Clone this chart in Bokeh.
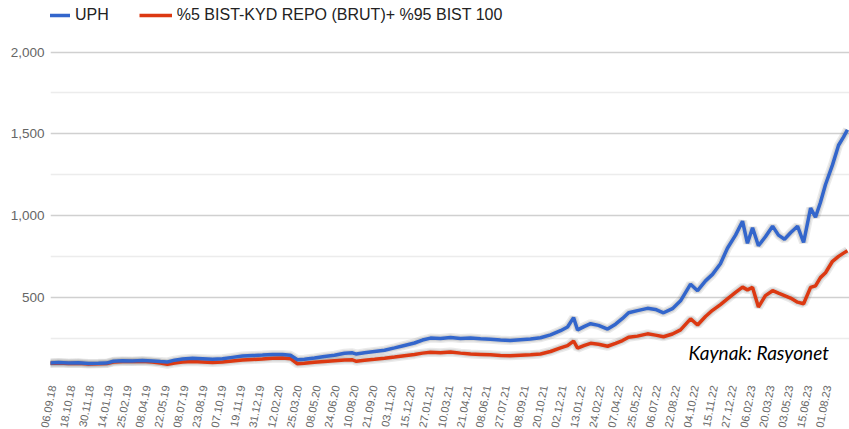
from bokeh.plotting import figure
from bokeh.models import (ColumnDataSource, Range1d, FixedTicker, NumeralTickFormatter,
                          Legend, LegendItem, Label)
from bokeh.embed import file_html
from bokeh.resources import INLINE

# ---- data ----
tick_labels = ["06.09.18", "18.10.18", "30.11.18", "14.01.19", "25.02.19", "08.04.19",
               "22.05.19", "08.07.19", "23.08.19", "07.10.19", "19.11.19", "31.12.19",
               "12.02.20", "25.03.20", "08.05.20", "24.06.20", "10.08.20", "21.09.20",
               "03.11.20", "15.12.20", "27.01.21", "10.03.21", "21.04.21", "08.06.21",
               "27.07.21", "08.09.21", "20.10.21", "02.12.21", "13.01.22", "24.02.22",
               "07.04.22", "25.05.22", "06.07.22", "22.08.22", "04.10.22", "15.11.22",
               "27.12.22", "06.02.23", "20.03.23", "03.05.23", "15.06.23", "01.08.23"]

# position along the date axis, in units of tick intervals (0 = 06.09.18)
period = [-0.21, 0.32, 0.85, 1.38, 1.90, 2.43, 2.86, 3.23, 3.70, 4.23, 4.76, 5.29, 5.71,
          6.08, 6.46, 6.88, 7.41, 7.94, 8.47, 8.99, 9.52, 10.05, 10.58, 11.11, 11.64,
          12.17, 12.59, 12.96, 13.33, 13.86, 14.39, 14.92, 15.45, 15.87, 16.08, 16.51,
          17.04, 17.57, 18.10, 18.62, 19.15, 19.58, 20.00, 20.53, 21.06, 21.59, 22.12,
          22.65, 23.17, 23.70, 24.23, 24.76, 25.29, 25.82, 26.35, 26.88, 27.25, 27.57,
          27.78, 28.15, 28.47, 28.89, 29.37, 29.79, 30.16, 30.48, 30.95, 31.48, 31.90,
          32.33, 32.80, 33.23, 33.76, 34.13, 34.55, 34.92, 35.34, 35.71, 36.14, 36.51,
          36.77, 37.04, 37.35, 37.72, 38.10, 38.41, 38.73, 39.05, 39.42, 39.74, 40.11,
          40.37, 40.63, 40.90, 41.27, 41.59, 41.85, 42.06]

uph = [97, 100, 98, 99, 95, 96, 97, 108, 112, 110, 113, 110, 106,
       104, 115, 122, 126, 124, 120, 124, 132, 140, 143, 146, 150,
       150, 145, 118, 120, 128, 137, 145, 157, 160, 152, 160,
       168, 176, 190, 205, 220, 238, 250, 248, 253, 247, 250,
       246, 243, 238, 235, 240, 245, 252, 270, 295, 318, 375,
       300, 322, 338, 328, 305, 335, 370, 405, 418, 432, 425,
       405, 430, 478, 580, 540, 600, 640, 705, 800, 880, 965,
       830, 925, 815, 870, 935, 880, 855, 895, 935, 835, 1045,
       990, 1080, 1190, 1310, 1430, 1480, 1525]

bench = [95, 97, 95, 96, 92, 93, 94, 104, 107, 106, 108, 103, 97,
         89, 98, 103, 106, 104, 100, 104, 110, 116, 119, 122, 127,
         128, 124, 93, 96, 102, 107, 112, 116, 117, 108, 115,
         120, 126, 134, 142, 150, 158, 163, 160, 165, 158, 152,
         150, 148, 144, 142, 145, 148, 153, 168, 190, 204, 232,
         188, 205, 218, 212, 200, 218, 235, 255, 262, 276, 268,
         258, 275, 300, 368, 330, 382, 420, 455, 490, 530, 562,
         545, 560, 440, 510, 540, 525, 510, 495, 470, 460, 560,
         570, 620, 650, 720, 750, 770, 785]

y_major = [500, 1000, 1500, 2000]
y_minor = [250, 750, 1250, 1750]

series_names = ["UPH", "%5 BIST-KYD REPO (BRUT)+ %95 BIST 100"]
colors = ["#3366cc", "#dc3912"]

src = ColumnDataSource(dict(period=period, uph=uph, bench=bench))

FONT = "Liberation Sans"
UNITS_PER_PX = 500 / 81.7
FRAME_H = 376
FRAME_W = 799
Y_TOP = 2316

p = figure(frame_width=FRAME_W, frame_height=FRAME_H,
           output_backend="svg", toolbar_location=None,
           x_range=Range1d(-0.106, -0.106 + FRAME_W / 18.9),
           y_range=Range1d(Y_TOP - FRAME_H * UNITS_PER_PX, Y_TOP),
           min_border_left=50, min_border_right=0, min_border_top=0, min_border_bottom=0,
           background_fill_color="white", border_fill_color="white")
p.outline_line_color = None

# grid
p.xgrid.grid_line_color = None
p.yaxis.ticker = FixedTicker(ticks=y_major, minor_ticks=y_minor)
p.ygrid.grid_line_color = "#d0d0d0"
p.ygrid.grid_line_width = 1.5
p.ygrid.minor_grid_line_color = "#ececec"
p.ygrid.minor_grid_line_width = 1.5

# axes
p.xaxis.ticker = FixedTicker(ticks=list(range(len(tick_labels))))
p.xaxis.major_label_overrides = {i: s for i, s in enumerate(tick_labels)}
p.xaxis.major_label_orientation = 1.38
for ax in (p.xaxis, p.yaxis):
    ax.axis_line_color = None
    ax.major_tick_line_color = None
    ax.minor_tick_line_color = None
    ax.major_label_text_font = FONT
    ax.major_label_text_color = "#666666"
p.xaxis.major_label_text_font_size = "11px"
p.xaxis.major_label_standoff = 3
p.yaxis.major_label_text_font_size = "13.5px"
p.yaxis.major_label_standoff = 0
p.yaxis.formatter = NumeralTickFormatter(format="0,0")

# soft halo under lines
for col in ("bench", "uph"):
    p.line("period", col, source=src, line_color="#555555", line_width=9, line_alpha=0.12)
    p.line("period", col, source=src, line_color="#555555", line_width=6, line_alpha=0.15)

r_bench = p.line("period", "bench", source=src, line_color=colors[1], line_width=3.5)
r_uph = p.line("period", "uph", source=src, line_color=colors[0], line_width=3.5)

legend = Legend(items=[LegendItem(label=series_names[0], renderers=[r_uph]),
                       LegendItem(label=series_names[1], renderers=[r_bench])],
                orientation="horizontal", location=(-13, 352),
                label_text_font=FONT, label_text_font_size="16px",
                label_text_color="#222222", glyph_width=33, glyph_height=16,
                label_standoff=5, spacing=30, padding=0, margin=0,
                border_line_color=None, background_fill_alpha=0)
p.add_layout(legend)

note = Label(x=638, y=24, x_units="screen", y_units="screen", text="Kaynak: Rasyonet",
             text_font="Lato", text_font_style="italic", text_font_size="19px",
             text_color="#000000", text_baseline="alphabetic")
p.add_layout(note)

open("out.html", "w").write(file_html(p, INLINE))
